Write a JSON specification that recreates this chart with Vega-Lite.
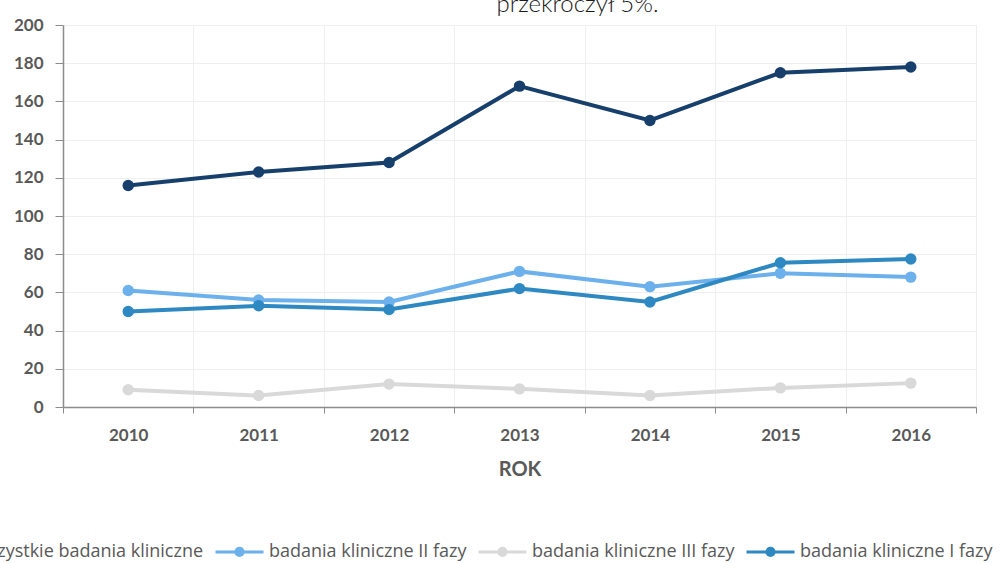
{
  "$schema": "https://vega.github.io/schema/vega-lite/v6.json",
  "width": 913,
  "height": 382,
  "autosize": {"type": "none"},
  "padding": {"left": 63, "top": 25, "right": 26, "bottom": 156},
  "background": "white",
  "title": {
    "text": "przekroczył 5%.",
    "anchor": "middle",
    "frame": "group",
    "dx": 58,
    "offset": -20,
    "baseline": "alphabetic",
    "font": "Lato",
    "fontSize": 24,
    "fontWeight": 300,
    "color": "#1a1a1a"
  },
  "data": {
    "values": [
      {"rok": "2010", "seria": "Wszystkie badania kliniczne", "liczba": 116},
      {"rok": "2011", "seria": "Wszystkie badania kliniczne", "liczba": 123},
      {"rok": "2012", "seria": "Wszystkie badania kliniczne", "liczba": 128},
      {"rok": "2013", "seria": "Wszystkie badania kliniczne", "liczba": 168},
      {"rok": "2014", "seria": "Wszystkie badania kliniczne", "liczba": 150},
      {"rok": "2015", "seria": "Wszystkie badania kliniczne", "liczba": 175},
      {"rok": "2016", "seria": "Wszystkie badania kliniczne", "liczba": 178},
      {"rok": "2010", "seria": "badania kliniczne II fazy", "liczba": 61},
      {"rok": "2011", "seria": "badania kliniczne II fazy", "liczba": 56},
      {"rok": "2012", "seria": "badania kliniczne II fazy", "liczba": 55},
      {"rok": "2013", "seria": "badania kliniczne II fazy", "liczba": 71},
      {"rok": "2014", "seria": "badania kliniczne II fazy", "liczba": 63},
      {"rok": "2015", "seria": "badania kliniczne II fazy", "liczba": 70},
      {"rok": "2016", "seria": "badania kliniczne II fazy", "liczba": 68},
      {"rok": "2010", "seria": "badania kliniczne III fazy", "liczba": 9},
      {"rok": "2011", "seria": "badania kliniczne III fazy", "liczba": 6},
      {"rok": "2012", "seria": "badania kliniczne III fazy", "liczba": 12},
      {"rok": "2013", "seria": "badania kliniczne III fazy", "liczba": 9.5},
      {"rok": "2014", "seria": "badania kliniczne III fazy", "liczba": 6},
      {"rok": "2015", "seria": "badania kliniczne III fazy", "liczba": 10},
      {"rok": "2016", "seria": "badania kliniczne III fazy", "liczba": 12.5},
      {"rok": "2010", "seria": "badania kliniczne I fazy", "liczba": 50},
      {"rok": "2011", "seria": "badania kliniczne I fazy", "liczba": 53},
      {"rok": "2012", "seria": "badania kliniczne I fazy", "liczba": 51},
      {"rok": "2013", "seria": "badania kliniczne I fazy", "liczba": 62},
      {"rok": "2014", "seria": "badania kliniczne I fazy", "liczba": 55},
      {"rok": "2015", "seria": "badania kliniczne I fazy", "liczba": 75.5},
      {"rok": "2016", "seria": "badania kliniczne I fazy", "liczba": 77.5}
    ]
  },
  "mark": {
    "type": "line",
    "strokeWidth": 4,
    "point": {"filled": true, "size": 130, "opacity": 1}
  },
  "encoding": {
    "x": {
      "field": "rok",
      "type": "ordinal",
      "bandPosition": 0.5,
      "scale": {"type": "band", "paddingInner": 0, "paddingOuter": 0},
      "axis": {
        "title": "ROK",
        "labelAngle": 0,
        "tickBand": "extent",
        "grid": true,
        "gridColor": "#efefef",
        "gridWidth": 1,
        "domainColor": "#8c8c8c",
        "domainWidth": 1.5,
        "tickColor": "#8c8c8c",
        "tickWidth": 1,
        "tickSize": 6,
        "labelPadding": 14,
        "labelFont": "Lato",
        "labelFontSize": 17,
        "labelFontWeight": "bold",
        "labelColor": "#595959",
        "titleFont": "Lato",
        "titleFontSize": 20,
        "titleFontWeight": "bold",
        "titleColor": "#595959",
        "titlePadding": 16
      }
    },
    "y": {
      "field": "liczba",
      "type": "quantitative",
      "scale": {"domain": [0, 200], "nice": false},
      "axis": {
        "title": null,
        "values": [0, 20, 40, 60, 80, 100, 120, 140, 160, 180, 200],
        "grid": true,
        "gridColor": "#efefef",
        "gridWidth": 1,
        "domainColor": "#8c8c8c",
        "domainWidth": 1.5,
        "tickColor": "#8c8c8c",
        "tickSize": 8,
        "labelPadding": 12,
        "labelFont": "Lato",
        "labelFontSize": 17,
        "labelFontWeight": "bold",
        "labelColor": "#595959"
      }
    },
    "color": {
      "field": "seria",
      "type": "nominal",
      "scale": {
        "domain": ["Wszystkie badania kliniczne", "badania kliniczne II fazy", "badania kliniczne III fazy", "badania kliniczne I fazy"],
        "range": ["#173f6b", "#6cb0ec", "#d9d9d9", "#2e88c2"]
      },
      "legend": {
        "title": null,
        "orient": "none",
        "direction": "horizontal",
        "legendX": -146,
        "legendY": 501,
        "padding": 0,
        "symbolType": "M-1,0H1M-0.15,0A0.15,0.15,0,1,1,0.15,0A0.15,0.15,0,1,1,-0.15,0Z",
        "symbolSize": 2304,
        "symbolStrokeWidth": 3,
        "labelFont": "Open Sans",
        "labelFontSize": 18,
        "labelLimit": 400,
        "labelColor": "#595959",
        "labelOffset": 4,
        "columnPadding": 5,
        "encode": {
          "symbols": {"update": {"fill": {"scale": "color", "field": "value"}}}
        }
      }
    }
  }
}
